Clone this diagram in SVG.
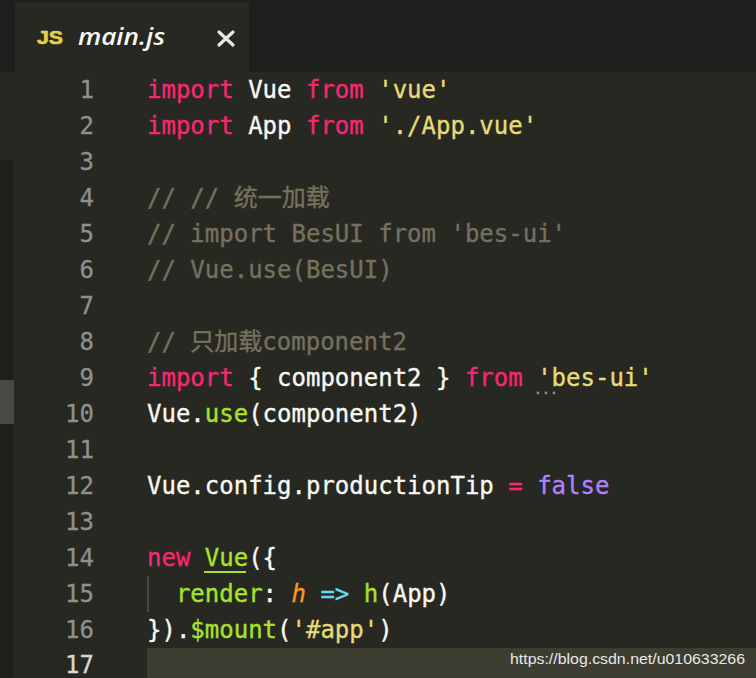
<svg xmlns="http://www.w3.org/2000/svg" width="756" height="678" viewBox="0 0 756 678">
<style>
.code{font-family:"DejaVu Sans Mono","Noto Sans CJK SC",monospace;font-size:24px;fill:#f8f8f2;stroke:#f8f8f2;stroke-width:0.35;white-space:pre}
.ln{font-family:"DejaVu Sans Mono",monospace;font-size:24px;fill:#90908a;stroke:#90908a;stroke-width:0.3;text-anchor:end}
.k{fill:#f92672;stroke:#f92672}.s{fill:#e6db74;stroke:#e6db74}.c{fill:#75715e;stroke:#75715e}.f{fill:#a6e22e;stroke:#a6e22e}.p{fill:#ae81ff;stroke:#ae81ff}
.o{fill:#fd971f;stroke:#fd971f;font-style:italic}.a{fill:#66d9ef;stroke:#66d9ef}
</style>
<rect x="0" y="0" width="756" height="678" fill="#272822"/>
<g id="tabbar">
<rect x="0" y="0" width="756" height="72" fill="#1e1f1c"/>
<rect x="15" y="2" width="234" height="70" fill="#272822"/>
<text x="37" y="44" font-family="Liberation Sans,Arial,sans-serif" font-size="18" font-weight="bold" fill="#e6cd4a" stroke="#e6cd4a" stroke-width="0.6" textLength="26" lengthAdjust="spacingAndGlyphs">JS</text>
<text x="78" y="45" font-family="Open Sans,Liberation Sans,sans-serif" font-size="24" font-style="italic" font-weight="600" fill="#f8f8f2" textLength="87" lengthAdjust="spacingAndGlyphs">main.js</text>
<path d="M219 32 L233 45 M233 32 L219 45" stroke="#e8e8e2" stroke-width="3.2" stroke-linecap="round"/>
</g>
<g id="gutter">
<rect x="0" y="72" width="14" height="606" fill="#1e1f1c"/>
<rect x="0" y="72" width="14" height="88" fill="#272822"/>
<rect x="0" y="380" width="14" height="44" fill="#4a4a44"/>
<rect x="147" y="648" width="609" height="30" fill="#3e3d32"/>
<rect x="147" y="576" width="2" height="36" fill="#4a4a44"/>
</g>
<g id="linenumbers">
<text class="ln" x="94" y="98">1</text>
<text class="ln" x="94" y="134">2</text>
<text class="ln" x="94" y="170">3</text>
<text class="ln" x="94" y="206">4</text>
<text class="ln" x="94" y="242">5</text>
<text class="ln" x="94" y="278">6</text>
<text class="ln" x="94" y="314">7</text>
<text class="ln" x="94" y="350">8</text>
<text class="ln" x="94" y="386">9</text>
<text class="ln" x="94" y="422">10</text>
<text class="ln" x="94" y="458">11</text>
<text class="ln" x="94" y="494">12</text>
<text class="ln" x="94" y="530">13</text>
<text class="ln" x="94" y="566">14</text>
<text class="ln" x="94" y="602">15</text>
<text class="ln" x="94" y="638">16</text>
<text class="ln" x="94" y="673" style="fill:#d8d8d2;stroke:#d8d8d2">17</text>
</g>
<g id="code" xml:space="preserve">
<text class="code" x="147" y="98"><tspan class="k">import</tspan> Vue <tspan class="k">from</tspan> <tspan class="s">'vue'</tspan></text>
<text class="code" x="147" y="134"><tspan class="k">import</tspan> App <tspan class="k">from</tspan> <tspan class="s">'./App.vue'</tspan></text>
<text class="code c" x="147" y="206">// // 统一加载</text>
<text class="code c" x="147" y="242">// import BesUI from 'bes-ui'</text>
<text class="code c" x="147" y="278">// Vue.use(BesUI)</text>
<text class="code c" x="147" y="350">// 只加载component2</text>
<text class="code" x="147" y="386"><tspan class="k">import</tspan> { component2 } <tspan class="k">from</tspan> <tspan class="s">'bes-ui'</tspan></text>
<text class="code" x="147" y="422">Vue.<tspan class="f">use</tspan>(component2)</text>
<text class="code" x="147" y="494">Vue.config.productionTip <tspan class="k">=</tspan> <tspan class="p">false</tspan></text>
<text class="code" x="147" y="566"><tspan class="k">new</tspan> <tspan class="f">Vue</tspan>({</text>
<text class="code" x="147" y="602">  <tspan class="f">render</tspan>: <tspan class="o">h</tspan> <tspan class="a">=&gt;</tspan> <tspan class="f">h</tspan>(App)</text>
<text class="code" x="147" y="638">}).<tspan class="f">$mount</tspan>(<tspan class="s">'#app'</tspan>)</text>
</g>
<g id="marks">
<rect x="204" y="571" width="42" height="2" fill="#a6e22e"/>
<circle cx="538" cy="393" r="1.4" fill="#90908a"/>
<circle cx="546" cy="393" r="1.4" fill="#90908a"/>
<circle cx="554" cy="393" r="1.4" fill="#90908a"/>
</g>
<text x="510" y="664" font-family="Liberation Sans,Arial,sans-serif" font-size="15" fill="#e8e8e8" textLength="235" lengthAdjust="spacingAndGlyphs">https://blog.csdn.net/u010633266</text>
</svg>
